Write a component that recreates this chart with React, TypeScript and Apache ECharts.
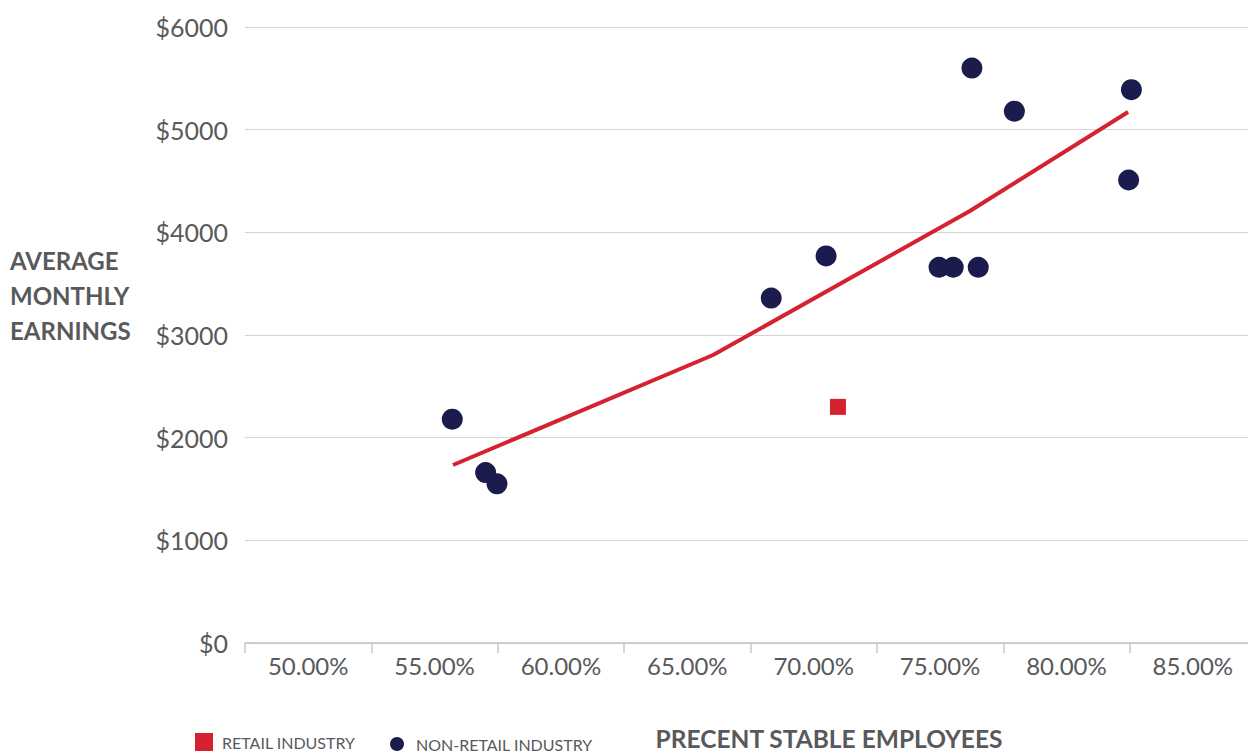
import React, { useEffect, useRef } from "react";
import * as echarts from "echarts";

// Percent of stable employees (x) and average monthly earnings in dollars (y)
const retailX = [70.96];
const retailY = [2300];

const nonRetailX = [55.7, 57.02, 57.47, 68.32, 70.49, 74.96, 75.52, 76.51, 76.26, 77.94, 82.57, 82.46];
const nonRetailY = [2180, 1660, 1550, 3360, 3770, 3660, 3660, 3660, 5600, 5180, 5390, 4510];

// Fitted trend across the industries
const trendX = [55.73, 66.02, 76.18, 82.44];
const trendY = [1734, 2805, 4208, 5172];

const yTicks = [0, 1000, 2000, 3000, 4000, 5000, 6000];
const xLabelValues = [50, 55, 60, 65, 70, 75, 80, 85];

const FONT = "Lato";
const GREY = "#58595b";
const RED = "#d42231";
const NAVY = "#1c1b4d";

export default function App() {
  const ref = useRef<HTMLDivElement>(null);

  useEffect(() => {
    if (!ref.current) return;
    const chart = echarts.init(ref.current, null, { renderer: "svg" });

    const pairs = (xs: number[], ys: number[]) => xs.map((x, i) => [x, ys[i]]);

    chart.setOption({
      animation: false,
      backgroundColor: "#ffffff",
      textStyle: { fontFamily: FONT },
      grid: {
        left: 245,
        top: 27,
        width: 1011,
        bottom: 110,
        containLabel: false,
        outerBoundsMode: "none",
      },
      xAxis: [
        {
          type: "value",
          position: "bottom",
          min: 47.5,
          max: 87.5,
          interval: 5,
          axisLine: { show: true, lineStyle: { color: "#c4c4c4", width: 1.5 } },
          axisTick: { show: true, length: 10, lineStyle: { color: "#c8c8c8", width: 1.5 } },
          axisLabel: { show: false },
          splitLine: { show: false },
        },
        {
          type: "value",
          position: "bottom",
          min: 47.5,
          max: 87.5,
          interval: 2.5,
          axisLine: { show: false },
          axisTick: { show: false },
          splitLine: { show: false },
          axisLabel: {
            margin: 10,
            fontFamily: FONT,
            fontSize: 24,
            color: GREY,
            formatter: (v: number) =>
              xLabelValues.some((t) => Math.abs(t - v) < 1e-6) ? v.toFixed(2) + "%" : "",
          },
        },
      ],
      yAxis: {
        type: "value",
        min: yTicks[0],
        max: yTicks[yTicks.length - 1],
        interval: 1000,
        axisLine: { show: false },
        axisTick: { show: false },
        splitLine: { show: true, lineStyle: { color: "#d4d4d4", width: 1 } },
        axisLabel: {
          margin: 17,
          fontFamily: FONT,
          fontSize: 25,
          color: GREY,
          formatter: (v: number) => "$" + v,
        },
      },
      legend: [
        {
          left: 195,
          top: 733,
          padding: 0,
          itemWidth: 18,
          itemHeight: 18,
          data: [{ name: "RETAIL INDUSTRY", icon: "rect" }],
          textStyle: { fontFamily: FONT, fontSize: 16, color: GREY, padding: [0, 0, 0, 4] },
        },
        {
          left: 390,
          top: 736,
          padding: 0,
          itemWidth: 14,
          itemHeight: 14,
          data: [{ name: "NON-RETAIL INDUSTRY", icon: "circle" }],
          textStyle: { fontFamily: FONT, fontSize: 16, color: GREY, padding: [0, 0, 0, 7] },
        },
      ],
      graphic: [
        {
          type: "text",
          left: 10,
          top: 243,
          style: {
            text: "AVERAGE\nMONTHLY\nEARNINGS",
            fontFamily: FONT,
            fontWeight: "bold",
            fontSize: 24,
            lineHeight: 35,
            fill: GREY,
          },
        },
        {
          type: "text",
          x: 829,
          y: 738,
          style: {
            text: "PRECENT STABLE EMPLOYEES",
            fontFamily: FONT,
            fontWeight: "bold",
            fontSize: 24.5,
            fill: GREY,
            textAlign: "center",
            textVerticalAlign: "middle",
          },
        },
      ],
      series: [
        {
          name: "Trend",
          type: "line",
          xAxisIndex: 0,
          data: pairs(trendX, trendY),
          symbol: "none",
          lineStyle: { color: RED, width: 4 },
          silent: true,
        },
        {
          name: "RETAIL INDUSTRY",
          type: "scatter",
          xAxisIndex: 0,
          symbol: "rect",
          symbolSize: 16,
          itemStyle: { color: RED, opacity: 1 },
          data: pairs(retailX, retailY),
        },
        {
          name: "NON-RETAIL INDUSTRY",
          type: "scatter",
          xAxisIndex: 0,
          symbol: "circle",
          symbolSize: 21,
          itemStyle: { color: NAVY, opacity: 1 },
          data: pairs(nonRetailX, nonRetailY),
        },
      ],
    });

    return () => chart.dispose();
  }, []);

  return (
    <div
      ref={ref}
      style={{ position: "fixed", left: 0, top: 0, width: 1248, height: 753, background: "#fff" }}
    />
  );
}
